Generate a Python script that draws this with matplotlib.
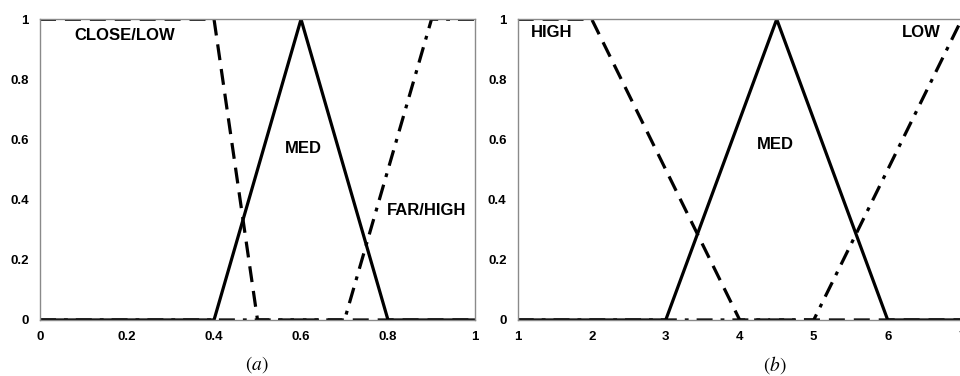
import matplotlib
matplotlib.use("Agg")
import matplotlib.pyplot as plt

plt.rcParams["font.family"] = ["Liberation Sans", "DejaVu Sans"]
plt.rcParams["mathtext.fontset"] = "stix"

# (a) distance membership functions
a_close_x = [0, 0.4, 0.5, 1]
a_close_y = [1, 1, 0, 0]
a_med_x = [0, 0.4, 0.6, 0.8, 1]
a_med_y = [0, 0, 1, 0, 0]
a_far_x = [0, 0.7, 0.9, 1]
a_far_y = [0, 0, 1, 1]
a_xticks = [0, 0.2, 0.4, 0.6, 0.8, 1]
a_xlabels = ["0", "0.2", "0.4", "0.6", "0.8", "1"]

# (b) rank membership functions
b_high_x = [1, 2, 4, 7]
b_high_y = [1, 1, 0, 0]
b_med_x = [1, 3, 4.5, 6, 7]
b_med_y = [0, 0, 1, 0, 0]
b_low_x = [1, 5, 7]
b_low_y = [0, 0, 1]
b_xticks = [1, 2, 3, 4, 5, 6, 7]
b_xlabels = ["1", "2", "3", "4", "5", "6", "7"]

yticks = [0, 0.2, 0.4, 0.6, 0.8, 1]
ylabels = ["0", "0.2", "0.4", "0.6", "0.8", "1"]

fig = plt.figure(figsize=(9.6, 3.76), dpi=100)
ax1 = fig.add_axes([0.0417, 0.149, 0.4531, 0.7998])
ax2 = fig.add_axes([0.5393, 0.149, 0.4625, 0.7998])

LW = 2.3
DASH = (0, (5, 2.8))
DASHDOT = (0, (5, 2.5, 1.2, 2.5))


def style_axes(ax, xlim, xticks, xlabels):
    ax.set_xlim(*xlim)
    ax.set_ylim(0, 1)
    ax.set_xticks(xticks)
    ax.set_xticklabels(xlabels)
    ax.set_yticks(yticks)
    ax.set_yticklabels(ylabels)
    ax.tick_params(length=0, pad=8, labelsize=9.5)
    for lab in ax.get_xticklabels() + ax.get_yticklabels():
        lab.set_fontweight("bold")
    for sp in ax.spines.values():
        sp.set_color("#8a8a8a")
        sp.set_linewidth(1.0)


ax1.plot(a_close_x, a_close_y, color="black", lw=LW, linestyle=DASH)
ax1.plot(a_med_x, a_med_y, color="black", lw=LW)
ax1.plot(a_far_x, a_far_y, color="black", lw=LW, linestyle=DASHDOT)
style_axes(ax1, (0, 1), a_xticks, a_xlabels)
ax1.text(0.078, 0.947, "CLOSE/LOW", fontsize=12, fontweight="bold", ha="left", va="center")
ax1.text(0.605, 0.571, "MED", fontsize=12, fontweight="bold", ha="center", va="center")
ax1.text(0.798, 0.365, "FAR/HIGH", fontsize=12, fontweight="bold", ha="left", va="center")

ax2.plot(b_high_x, b_high_y, color="black", lw=LW, linestyle=DASH)
ax2.plot(b_med_x, b_med_y, color="black", lw=LW)
ax2.plot(b_low_x, b_low_y, color="black", lw=LW, linestyle=DASHDOT)
style_axes(ax2, (1, 7), b_xticks, b_xlabels)
ax2.text(1.18, 0.957, "HIGH", fontsize=12, fontweight="bold", ha="left", va="center")
ax2.text(4.48, 0.585, "MED", fontsize=12, fontweight="bold", ha="center", va="center")
ax2.text(6.19, 0.957, "LOW", fontsize=12, fontweight="bold", ha="left", va="center")

fig.text(0.268, 0.03, r"$(a)$", fontsize=14, ha="center", va="center")
fig.text(0.807, 0.03, r"$(b)$", fontsize=14, ha="center", va="center")

fig.savefig("out.png", dpi=100)
